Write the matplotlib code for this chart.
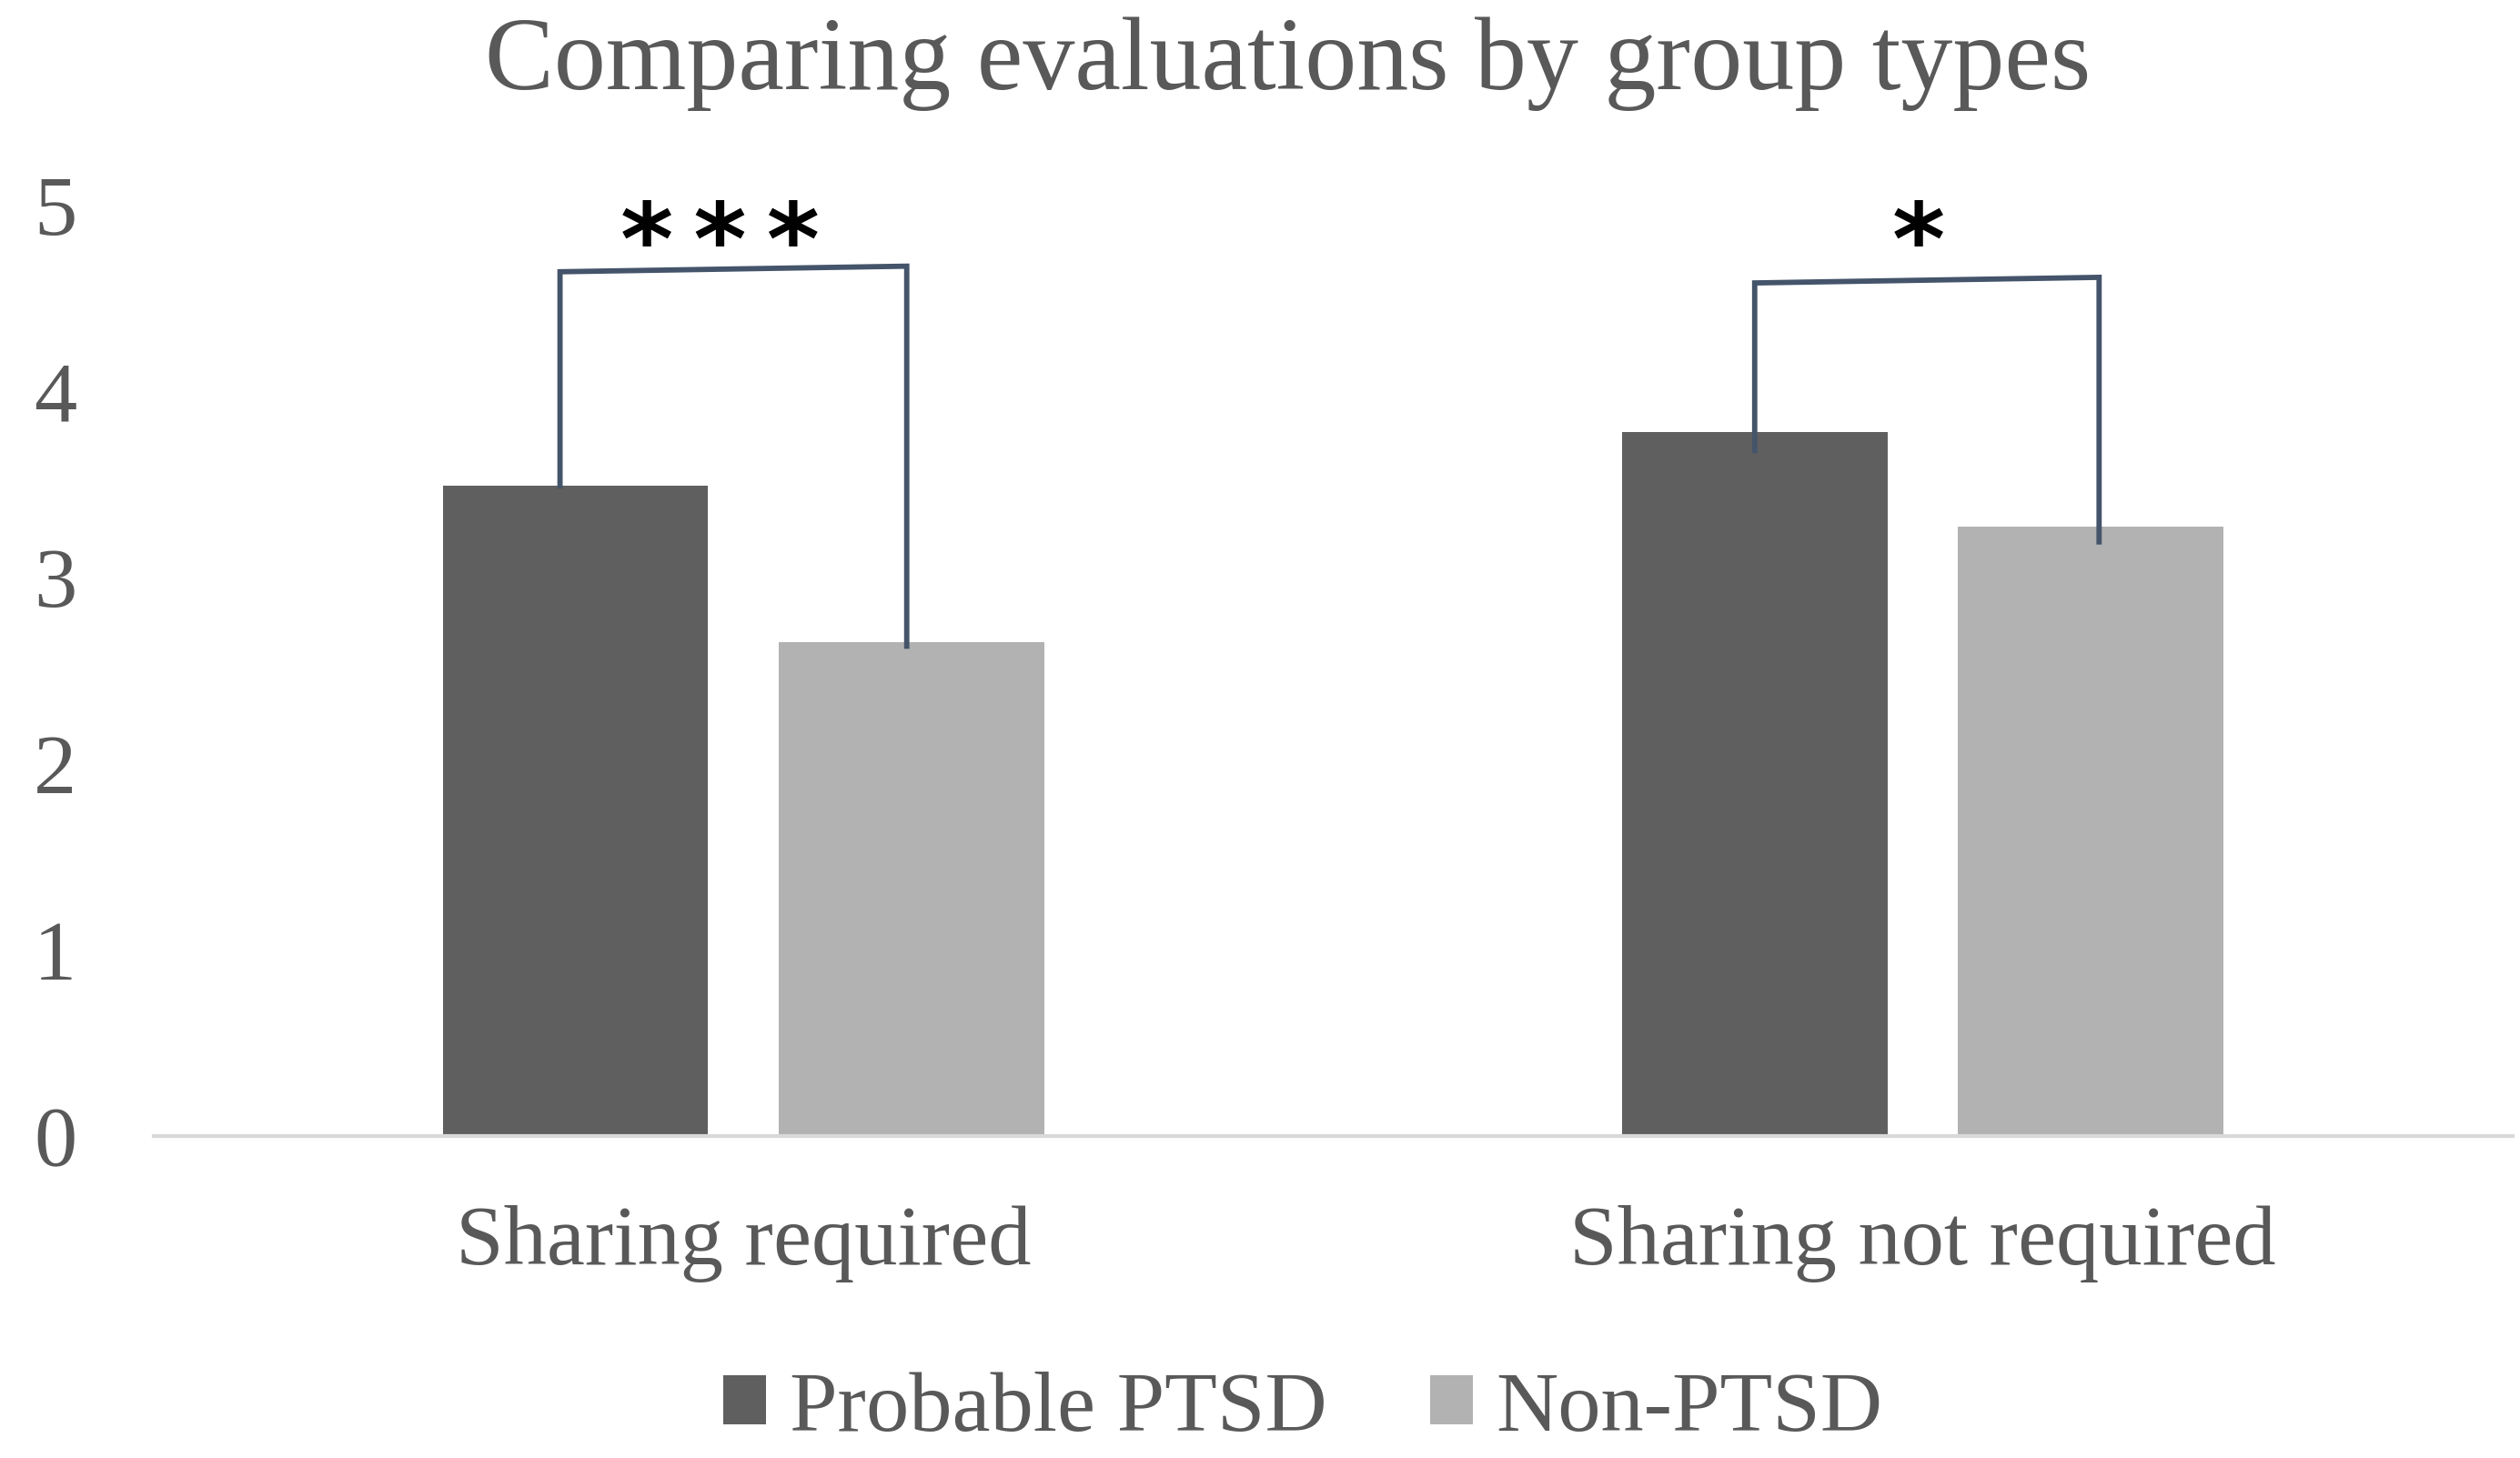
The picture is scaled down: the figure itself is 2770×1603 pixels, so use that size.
import matplotlib
matplotlib.use('Agg')
import matplotlib.pyplot as plt
import numpy as np

categories = ['Sharing required', 'Sharing not required']
series_names = ['Probable PTSD', 'Non-PTSD']
ptsd_means = [3.49, 3.78]
non_ptsd_means = [2.65, 3.27]
sig_labels = ['*\u2009*\u2009*', '*']
# bracket geometry: (left top, right top), (left end, right end)
bracket_tops = [(4.64, 4.67), (4.58, 4.61)]
bracket_ends = [(3.49, 2.63), (3.68, 3.19)]
y_ticks = [0, 1, 2, 3, 4, 5]

DARK = '#5f5f5f'
LIGHT = '#b2b2b2'
TEXT = '#595959'
BRACKET = '#44546a'

plt.rcParams['font.family'] = ['Liberation Serif', 'DejaVu Serif']

fig = plt.figure(figsize=(27.7, 16.03), dpi=100)
ax = fig.add_axes([0.061, 0.2208, 0.936, 0.6388])

x = np.arange(len(categories))
width = 0.225
offset = width / 2 + 0.03

ax.bar(x - offset, ptsd_means, width, color=DARK, label=series_names[0])
ax.bar(x + offset, non_ptsd_means, width, color=LIGHT, label=series_names[1])

# significance brackets, legs roughly at bar centres
leg_nudge = [(-0.013, -0.004), (0.0, 0.007)]
star_nudge = [-0.02, -0.004]
for i in range(len(categories)):
    xl = x[i] - offset + leg_nudge[i][0]
    xr = x[i] + offset + leg_nudge[i][1]
    tl, tr = bracket_tops[i]
    el, er = bracket_ends[i]
    ax.plot([xl, xl, xr, xr], [el, tl, tr, er],
            color=BRACKET, linewidth=4.2, clip_on=False, solid_joinstyle='miter')
    ax.text(x[i] + star_nudge[i], 4.51, sig_labels[i], ha='center', va='bottom',
            fontsize=80, fontweight='bold', color='black', family='DejaVu Sans')

ax.set_xlim(-0.5, 1.5)
ax.set_ylim(0, 5)
ax.set_yticks(y_ticks)
ax.set_xticks(x)
ax.set_xticklabels(categories)
ax.tick_params(axis='y', length=0, pad=61, labelsize=68, labelcolor=TEXT)
ax.tick_params(axis='x', length=0, pad=55, labelsize=68, labelcolor=TEXT)

for side in ['top', 'right', 'left']:
    ax.spines[side].set_visible(False)
ax.spines['bottom'].set_color('#d9d9d9')
ax.spines['bottom'].set_linewidth(3)

fig.text(0.511, 0.956, 'Comparing evaluations by group types', ha='center',
         va='center', fontsize=82, color=TEXT)

fig.legend(loc='center', bbox_to_anchor=(0.517, 0.033), ncol=2, frameon=False,
           fontsize=68, labelcolor=TEXT, handlelength=0.5, handleheight=0.5,
           handletextpad=0.27, columnspacing=1.2)

fig.savefig('out.png', dpi=100)
